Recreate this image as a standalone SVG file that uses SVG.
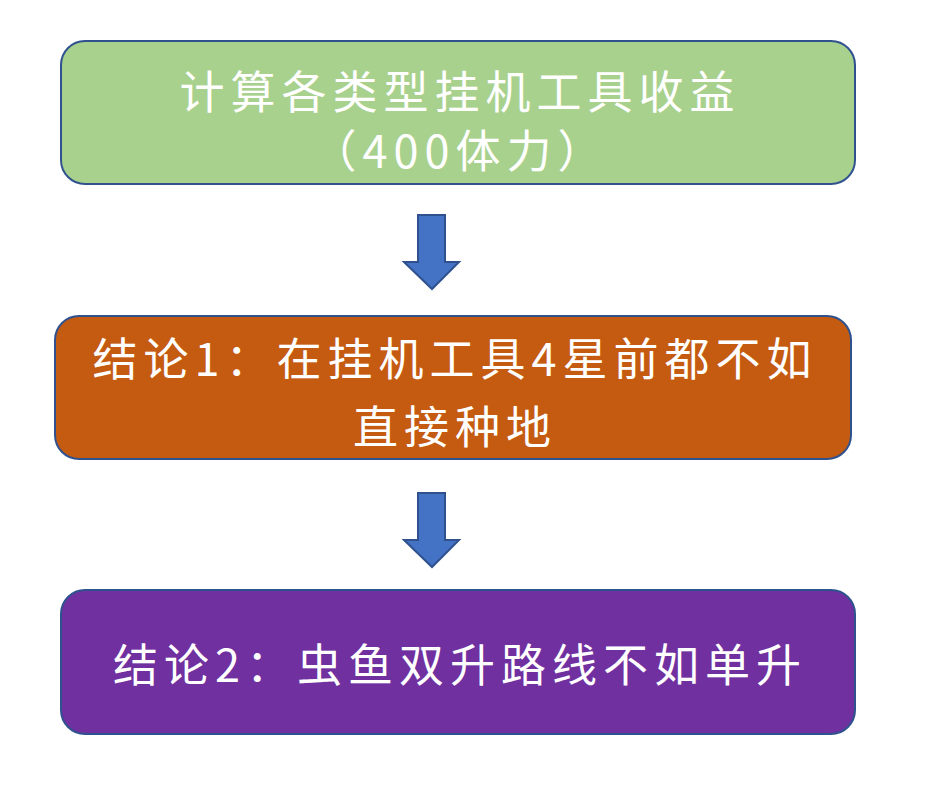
<svg xmlns="http://www.w3.org/2000/svg" width="940" height="792" viewBox="0 0 940 792">
<style>
.box{stroke:#2F528F;stroke-width:2}
.t{font-family:"Noto Sans CJK SC","Noto Sans",sans-serif;font-size:45px;fill:#fff;text-anchor:middle;dominant-baseline:central;letter-spacing:6px}
.arr{fill:#4472C4;stroke:#2F528F;stroke-width:2;stroke-linejoin:miter}
</style>
<rect width="940" height="792" fill="#fff"/>
<g id="node1">
<rect class="box" x="61" y="41" width="794" height="143" rx="24" fill="#A9D18E"/>
<text class="t" x="460" y="89">计算各类型挂机工具收益</text>
<text class="t" x="460" y="148">（400体力）</text>
</g>
<g id="node2">
<rect class="box" x="55" y="316" width="796" height="143" rx="24" fill="#C55A11"/>
<text class="t" x="455" y="356">结论1：在挂机工具4星前都不如</text>
<text class="t" x="455" y="424">直接种地</text>
</g>
<g id="node3">
<rect class="box" x="61" y="590" width="794" height="144" rx="24" fill="#7030A0"/>
<text class="t" x="460" y="662">结论2：虫鱼双升路线不如单升</text>
</g>
<g id="connectors">
<polygon class="arr" points="418,215 445,215 445,262 459,262 432,289 404,262 418,262"/>
<polygon class="arr" points="418,493 445,493 445,540 459,540 432,567 404,540 418,540"/>
</g>
</svg>
